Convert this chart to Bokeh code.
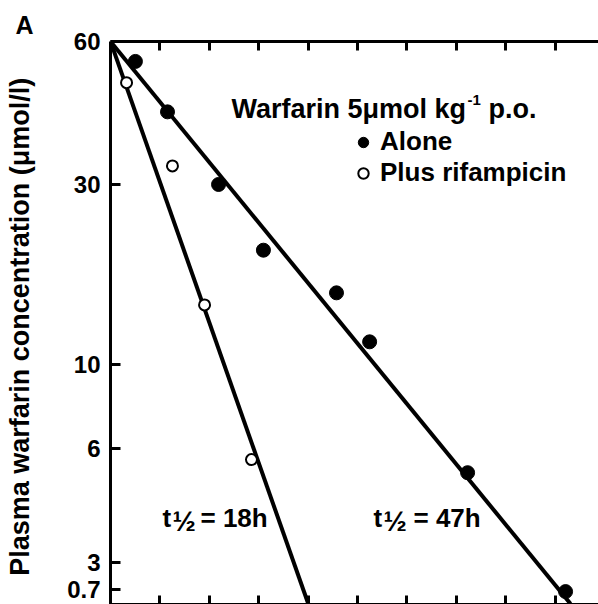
from bokeh.plotting import figure
from bokeh.models import (LinearAxis, FixedTicker, Label, Legend, LegendItem, Range1d, Title)
from bokeh.embed import file_html
from bokeh.resources import INLINE

# ---- data (time in h, concentration in umol/l) ----
alone_t = [12.1, 27.7, 52.5, 74.3, 109.8, 125.9, 173.5, 221.1]
alone_c = [63.5, 46.7, 30.0, 20.1, 15.5, 11.5, 5.18, 2.51]
rif_t = [7.8, 30.1, 45.7, 68.5]
rif_c = [55.8, 33.6, 14.4, 5.61]
alone_fit_t = [0, 223.5]
alone_fit_c = [71.7, 2.33]
rif_fit_t = [0, 96.2]
rif_fit_c = [71.7, 2.32]
y_ticks = [2.54, 3, 6, 10, 30, 71.7]
y_tick_labels = ["0.7", "3", "6", "10", "30", "60"]
x_ticks = [24, 48, 72, 96, 120, 144, 168, 192, 216]
series_labels = ["Alone", "Plus rifampicin"]

FONT = "Liberation Sans"

p = figure(width=598, height=604, output_backend="svg", toolbar_location=None,
           y_axis_type="log", x_range=Range1d(0, 237.1), y_range=Range1d(2.32, 71.7),
           min_border_left=110, min_border_top=41, min_border_bottom=0,
           min_border_right=0, outline_line_color=None)
p.grid.visible = False
p.background_fill_color = "white"
p.border_fill_color = "white"

p.title = Title(text="A", align="left", offset=-95, standoff=6,
                text_font=FONT, text_font_style="bold", text_font_size="25px",
                text_color="black")

top_axis = LinearAxis()
p.add_layout(top_axis, "above")
for ax in list(p.below) + [top_axis]:
    ax.ticker = FixedTicker(ticks=x_ticks)
    ax.major_tick_in = 9
    ax.major_tick_out = 0
    ax.minor_tick_in = 0
    ax.minor_tick_out = 0
    ax.major_label_text_font_size = "0px"
    ax.major_label_standoff = 0
    ax.axis_line_width = 3
    ax.major_tick_line_width = 3
    ax.axis_line_color = "black"
    ax.major_tick_line_color = "black"

ya = p.left[0]
ya.ticker = FixedTicker(ticks=y_ticks)
ya.major_label_overrides = dict(zip(y_ticks, y_tick_labels))
ya.major_tick_in = 10
ya.major_tick_out = 0
ya.minor_tick_in = 0
ya.minor_tick_out = 0
ya.axis_line_width = 3
ya.major_tick_line_width = 3
ya.major_label_standoff = 10
ya.major_label_text_font = FONT
ya.major_label_text_font_style = "bold"
ya.major_label_text_font_size = "24px"
ya.major_label_text_color = "black"
ya.axis_label = "Plasma warfarin concentration  (\u03bcmol/l)"
ya.axis_label_text_font = FONT
ya.axis_label_text_font_style = "bold"
ya.axis_label_text_font_size = "27px"
ya.axis_label_text_color = "black"
ya.axis_label_standoff = 29

p.line(alone_fit_t, alone_fit_c, line_width=4, line_color="black")
p.line(rif_fit_t, rif_fit_c, line_width=4, line_color="black")
r_alone = p.scatter(alone_t, alone_c, size=14, marker="circle",
                    fill_color="black", line_color="black")
r_rif = p.scatter(rif_t, rif_c, size=11, marker="circle",
                  fill_color="white", line_color="black", line_width=2)

legend = Legend(items=[LegendItem(label=series_labels[0], renderers=[r_alone]),
                       LegendItem(label=series_labels[1], renderers=[r_rif])],
                location=(240, 416), glyph_width=26, glyph_height=30,
                label_height=30, spacing=0, padding=0, margin=0, label_standoff=4,
                border_line_color=None, background_fill_alpha=0,
                label_text_font=FONT, label_text_font_style="bold",
                label_text_font_size="26px", label_text_color="black")
p.add_layout(legend)


def lab(text, x, y, size, **kw):
    p.add_layout(Label(text=text, x=x, y=y, x_units="screen", y_units="screen",
                       text_font=FONT, text_font_style="bold", text_font_size=size,
                       text_color="black", text_baseline="middle", text_align="left", **kw))


lab("Warfarin 5\u03bcmol kg", 121, 496, "27px")
lab("-1", 357, 505, "15px")
lab("p.o.", 378, 496, "27px")
lab("t", 52, 87, "26px")
lab("\u00bd", 62, 83, "28px")
lab("= 18h", 90, 87, "26px")
lab("t", 263, 87, "26px")
lab("\u00bd", 273, 83, "28px")
lab("= 47h", 303, 87, "26px")

open("out.html", "w").write(file_html(p, INLINE))
